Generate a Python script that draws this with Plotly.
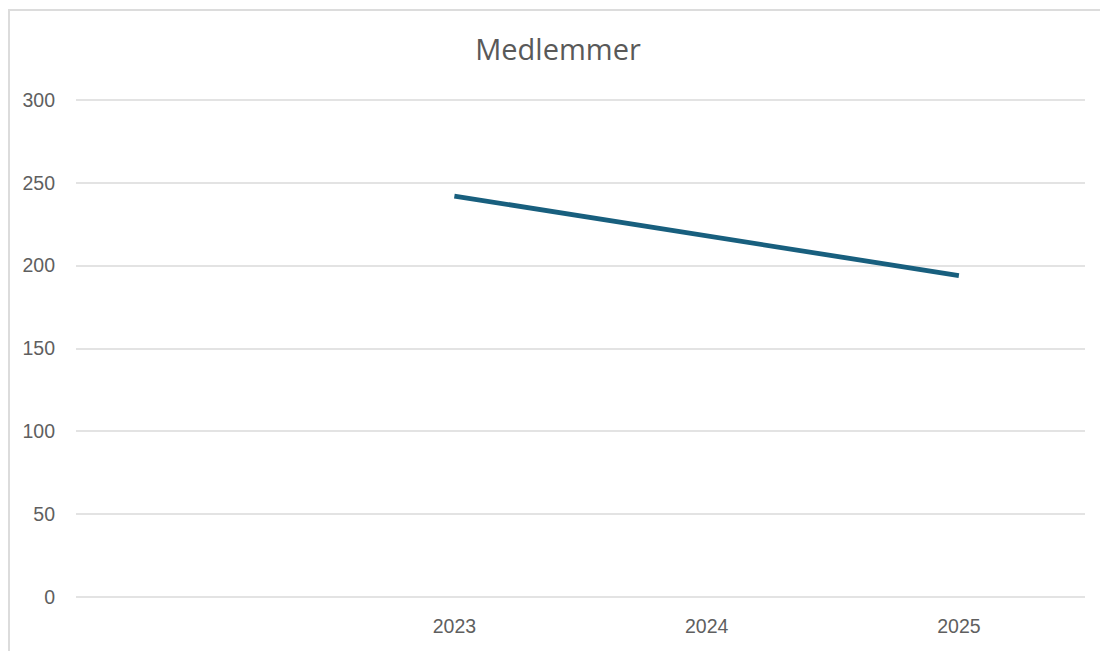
import plotly.graph_objects as go

# Data
categories = [" ", "2023", "2024", "2025"]
years = ["2023", "2024", "2025"]
members = [242, 218, 194]
y_ticks = [0, 50, 100, 150, 200, 250, 300]

# The page body has an 8px margin, so the figure starts at (8, 8)
OFF = 8
W, H = 1108 - OFF, 651 - OFF
L, R, T, B = 76 - OFF, 23, 97 - OFF, 54
pw = W - L - R
ph = H - T - B
y_top = 300 * ph / 497.0  # keeps 300 at y=100 and leaves room for its gridline

fig = go.Figure()
fig.add_trace(go.Scatter(
    x=years, y=members, mode="lines",
    line=dict(color="#185f7e", width=4.8),
    showlegend=False, hoverinfo="x+y",
))

fig.update_layout(
    width=W, height=H,
    margin=dict(l=L, r=R, t=T, b=B, pad=0),
    paper_bgcolor="white", plot_bgcolor="white",
    title=dict(text="Medlemmer", x=(558 - OFF) / W, xref="container", xanchor="center",
               y=1 - (50 - OFF) / H, yref="container", yanchor="middle",
               font=dict(family="Open Sans, sans-serif", size=29, color="#595959")),
    font=dict(family="Liberation Sans, Arial, sans-serif", color="#595959"),
    xaxis=dict(type="category", categoryorder="array", categoryarray=categories,
               tickvals=categories, ticktext=categories,
               range=[-0.5, 3.5], showgrid=False, zeroline=False, showline=False,
               ticks="", tickfont=dict(size=19.5, color="#5f5f5f"),
               ticklabelstandoff=15, fixedrange=True),
    yaxis=dict(range=[0, y_top], tickvals=y_ticks, showgrid=True,
               gridcolor="#e3e3e3", gridwidth=1.5, zeroline=True,
               zerolinecolor="#e3e3e3", zerolinewidth=1.5, showline=False,
               ticks="", tickfont=dict(size=19.5, color="#5f5f5f"),
               ticklabelstandoff=20, fixedrange=True),
    shapes=[dict(type="rect", xref="paper", yref="paper",
                 x0=(1 - L) / pw, x1=(W + 20 - L) / pw,
                 y0=-(B + 20) / ph, y1=(H - (10 - OFF) - B) / ph,
                 line=dict(color="#dcdcdc", width=2), fillcolor="rgba(0,0,0,0)",
                 layer="below")],
)

fig.write_html("out.html")
